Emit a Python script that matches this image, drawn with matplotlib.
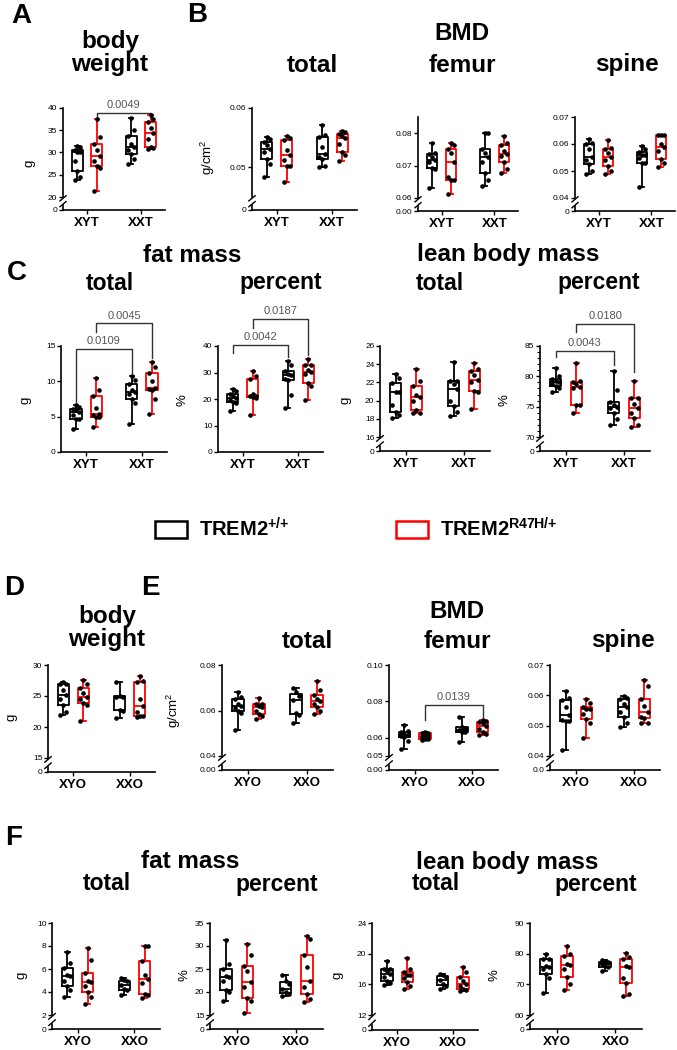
import numpy as np
import matplotlib.pyplot as plt
from matplotlib.patches import Patch

plt.rcParams['font.family'] = ['Liberation Sans', 'DejaVu Sans']
plt.rcParams['mathtext.default'] = 'regular'

W, H = 677, 1050

young_groups = ['XYT', 'XXT']
old_groups = ['XYO', 'XXO']

# box order in every panel: XY TREM2+/+, XY R47H, XX TREM2+/+, XX R47H
young_body_weight = [
    [23.8, 24.5, 25.8, 28.0, 30.0, 30.2, 30.5, 31.2, 31.5],
    [21.3, 26.5, 27.0, 28.0, 29.3, 30.5, 32.0, 33.5, 37.5],
    [27.5, 28.5, 29.7, 30.5, 31.2, 32.0, 33.6, 35.0, 37.7],
    [30.8, 31.0, 31.3, 33.0, 34.3, 35.5, 36.8, 37.5, 38.5],
]
young_bmd_total = [
    [0.0483, 0.0505, 0.0514, 0.0525, 0.0531, 0.0538, 0.0543, 0.0548, 0.0551],
    [0.0476, 0.0503, 0.0503, 0.0512, 0.0520, 0.0530, 0.0546, 0.0550, 0.0553],
    [0.0500, 0.0503, 0.0514, 0.0518, 0.0522, 0.0535, 0.0551, 0.0555, 0.0571],
    [0.0510, 0.0520, 0.0526, 0.0540, 0.0549, 0.0553, 0.0557, 0.0560, 0.0561],
]
young_bmd_femur = [
    [0.0630, 0.0690, 0.0694, 0.0710, 0.0716, 0.0725, 0.0736, 0.0740, 0.0769],
    [0.0612, 0.0655, 0.0656, 0.0665, 0.0711, 0.0740, 0.0752, 0.0765, 0.0771],
    [0.0637, 0.0655, 0.0677, 0.0710, 0.0728, 0.0740, 0.0751, 0.0800, 0.0800],
    [0.0677, 0.0690, 0.0711, 0.0730, 0.0737, 0.0745, 0.0763, 0.0770, 0.0790],
]
young_bmd_spine = [
    [0.0490, 0.0500, 0.0527, 0.0540, 0.0552, 0.0580, 0.0601, 0.0605, 0.0620],
    [0.0488, 0.0500, 0.0517, 0.0540, 0.0552, 0.0565, 0.0583, 0.0585, 0.0614],
    [0.0441, 0.0530, 0.0530, 0.0550, 0.0558, 0.0560, 0.0570, 0.0580, 0.0593],
    [0.0515, 0.0530, 0.0546, 0.0575, 0.0589, 0.0600, 0.0632, 0.0634, 0.0635],
]
young_fat_total = [
    [3.3, 4.6, 4.7, 5.3, 5.6, 5.9, 6.1, 6.4, 6.6],
    [3.5, 4.9, 5.0, 5.2, 5.4, 6.2, 7.9, 8.8, 10.5],
    [4.0, 7.0, 7.5, 8.2, 8.5, 8.8, 9.6, 10.2, 10.8],
    [5.4, 7.5, 8.8, 8.9, 9.0, 10.0, 11.2, 12.0, 12.7],
]
young_fat_pct = [
    [15.3, 18.5, 18.9, 19.5, 20.4, 21.0, 22.0, 23.0, 23.9],
    [13.8, 20.5, 20.8, 21.0, 21.1, 22.0, 27.4, 28.5, 30.6],
    [16.7, 21.5, 27.0, 27.5, 28.9, 29.5, 30.4, 33.0, 34.2],
    [19.5, 25.0, 26.0, 29.5, 30.2, 31.0, 33.0, 33.0, 35.2],
]
young_lean_total = [
    [18.1, 18.4, 18.8, 19.5, 20.9, 21.0, 21.9, 22.5, 22.9],
    [18.6, 18.6, 19.0, 20.0, 20.4, 20.6, 21.6, 22.2, 23.5],
    [18.3, 18.8, 19.4, 20.0, 21.3, 21.8, 22.1, 22.1, 24.2],
    [19.1, 21.0, 21.1, 22.0, 22.3, 22.8, 23.2, 23.5, 24.1],
]
young_lean_pct = [
    [77.5, 78.0, 78.4, 78.7, 79.0, 79.2, 79.5, 80.0, 81.3],
    [74.0, 75.3, 75.3, 78.0, 78.2, 78.8, 79.1, 79.2, 82.2],
    [72.0, 73.0, 74.0, 74.8, 75.0, 75.2, 75.7, 77.8, 80.8],
    [71.7, 72.0, 73.1, 74.0, 74.7, 75.5, 76.4, 76.4, 79.3],
]
old_body_weight = [
    [21.9, 22.5, 23.5, 24.5, 25.2, 26.0, 27.0, 27.0, 27.3],
    [20.9, 23.5, 23.8, 24.5, 24.9, 25.5, 26.3, 27.0, 27.6],
    [21.4, 22.6, 22.8, 24.8, 24.9, 25.0, 27.3],
    [21.6, 21.7, 21.8, 22.5, 23.4, 24.5, 27.3, 27.5, 28.3],
]
old_bmd_total = [
    [0.0515, 0.0590, 0.0596, 0.0610, 0.0618, 0.0630, 0.0651, 0.0660, 0.0681],
    [0.0562, 0.0575, 0.0585, 0.0600, 0.0615, 0.0620, 0.0627, 0.0630, 0.0654],
    [0.0546, 0.0580, 0.0590, 0.0646, 0.0665, 0.0680, 0.0697],
    [0.0583, 0.0600, 0.0616, 0.0630, 0.0641, 0.0650, 0.0668, 0.0690, 0.0730],
]
old_bmd_femur = [
    [0.0536, 0.0580, 0.0605, 0.0610, 0.0613, 0.0620, 0.0631, 0.0635, 0.0673],
    [0.0587, 0.0592, 0.0595, 0.0605, 0.0609, 0.0615, 0.0624, 0.0627, 0.0631],
    [0.0578, 0.0630, 0.0632, 0.0645, 0.0655, 0.0660, 0.0715],
    [0.0613, 0.0620, 0.0631, 0.0650, 0.0664, 0.0680, 0.0685, 0.0690, 0.0696],
]
old_bmd_spine = [
    [0.0420, 0.0515, 0.0515, 0.0520, 0.0535, 0.0560, 0.0585, 0.0590, 0.0615],
    [0.0460, 0.0510, 0.0521, 0.0540, 0.0554, 0.0556, 0.0563, 0.0575, 0.0589],
    [0.0495, 0.0510, 0.0527, 0.0545, 0.0560, 0.0570, 0.0588, 0.0590, 0.0599],
    [0.0508, 0.0510, 0.0524, 0.0530, 0.0544, 0.0565, 0.0588, 0.0630, 0.0650],
]
old_fat_total = [
    [3.6, 4.2, 4.55, 5.0, 5.35, 5.5, 6.1, 6.5, 7.45],
    [2.95, 3.6, 4.0, 4.5, 4.85, 5.0, 5.65, 6.8, 7.8],
    [3.75, 4.15, 4.25, 4.6, 4.95, 5.05, 5.2],
    [3.5, 3.7, 3.85, 4.8, 5.1, 5.5, 6.7, 8.0, 8.0],
]
old_fat_pct = [
    [18.1, 20.0, 20.5, 22.5, 23.2, 23.5, 25.1, 26.0, 31.2],
    [15.4, 18.0, 18.8, 21.0, 22.1, 24.5, 25.7, 28.0, 30.5],
    [19.2, 19.6, 20.0, 20.7, 21.8, 22.4, 23.6],
    [17.8, 18.5, 19.6, 21.0, 22.5, 25.5, 28.1, 31.5, 32.1],
]
old_lean_total = [
    [15.9, 16.2, 16.4, 17.0, 17.4, 17.8, 18.0, 18.0, 19.1],
    [15.4, 15.8, 16.3, 16.8, 17.2, 17.2, 17.6, 18.0, 19.4],
    [15.4, 15.8, 16.0, 16.6, 17.0, 17.2, 17.3],
    [15.1, 15.2, 15.4, 15.8, 16.1, 16.5, 16.9, 17.6, 18.3],
]
old_lean_pct = [
    [67.1, 72.0, 73.3, 75.0, 75.5, 76.0, 78.2, 78.2, 80.0],
    [68.0, 70.0, 72.3, 75.0, 76.3, 76.5, 79.2, 80.0, 82.5],
    [74.4, 75.6, 76.0, 76.6, 77.2, 77.6, 78.0],
    [66.3, 67.0, 70.3, 72.0, 75.8, 76.0, 78.2, 79.0, 80.3],
]

# p-value brackets: (box from, box to, top, left leg end, right leg end, label)
young_body_weight_p = [(1, 3, 38.9, 37.3, 38.0, '0.0049')]
young_fat_total_p = [(0, 2, 14.6, 7.0, 11.2, '0.0109'),
                     (1, 3, 18.2, 17.0, 13.3, '0.0045')]
young_fat_pct_p = [(0, 2, 40.4, 37.3, 35.9, '0.0042'),
                   (1, 3, 50.2, 46.8, 36.6, '0.0187')]
young_lean_pct_p = [(0, 2, 84.2, 83.2, 81.9, '0.0043'),
                    (1, 3, 88.6, 87.3, 80.7, '0.0180')]
old_bmd_femur_p = [(1, 3, 0.0782, 0.0700, 0.0717, '0.0139')]

positions = [-0.18, 0.18, 0.82, 1.18]
colors = ['black', 'red', 'black', 'red']

fig = plt.figure(figsize=(W / 100, H / 100), dpi=100)


def ftext(x, y, s, size, **kw):
    fig.text(x / W, 1 - y / H, s, ha='center', va='center',
             fontsize=size, fontweight='bold', **kw)


def fmt(v):
    if float(v).is_integer():
        return f'{int(v)}'
    return f'{v:.2f}'


def panel(box, data, groups, top, brk, ticks, zero_label=None,
          ylabel=None, ylab_pos=None, brackets=(), minor=None):
    x0, x1, ytop, ybrk, yzero = box
    ax = fig.add_axes([x0 / W, 1 - yzero / H, (x1 - x0) / W, (yzero - ytop) / H])

    if ybrk is None:
        bottom = brk
    else:
        k = (ybrk - ytop) / (top - brk)
        bottom = brk - (yzero - ybrk) / k
    ax.set_ylim(bottom, top)
    ax.set_xlim(-0.45, 1.45)

    bp = ax.boxplot(data, positions=positions, widths=0.2, whis=(0, 100),
                    showfliers=False, capwidths=0.08, manage_ticks=False)
    for i, c in enumerate(colors):
        bp['boxes'][i].set(color=c, linewidth=1.3)
        bp['medians'][i].set(color=c, linewidth=1.3)
        for j in (2 * i, 2 * i + 1):
            bp['whiskers'][j].set(color=c, linewidth=1.3)
            bp['caps'][j].set(color=c, linewidth=1.3)

    for p, vals in zip(positions, data):
        vals = np.sort(vals)
        jit = np.array([-1, 1, 0])[np.arange(len(vals)) % 3] * 0.055
        ax.scatter(p + jit, vals, s=11, color='black', zorder=3, linewidths=0)

    for i, j, yt, yl, yr, lab in brackets:
        ax.plot([positions[i], positions[i], positions[j], positions[j]],
                [yl, yt, yt, yr], color='#333333', lw=1, clip_on=False)
        ax.annotate(lab, xy=((positions[i] + positions[j]) / 2, yt),
                    xytext=(0, 2), textcoords='offset points', ha='center',
                    va='bottom', fontsize=8, color='#555555',
                    annotation_clip=False)

    for s in ('top', 'right'):
        ax.spines[s].set_visible(False)
    ax.spines['bottom'].set_linewidth(1.2)

    tick_vals = list(ticks)
    tick_labs = [fmt(t) for t in ticks]
    if ybrk is not None:
        ax.spines['left'].set_visible(False)
        tr = ax.get_yaxis_transform()
        gap = brk - bottom
        ax.plot([0, 0], [brk, top], color='black', lw=1.2, transform=tr,
                clip_on=False)
        ax.plot([0, 0], [bottom, bottom + 0.35 * gap], color='black', lw=1.2,
                transform=tr, clip_on=False)
        ax.plot([-0.03, 0.03], [brk - 0.3 * gap, brk + 0.1 * gap],
                color='black', lw=1, transform=tr, clip_on=False)
        ax.plot([-0.03, 0.03], [bottom + 0.25 * gap, bottom + 0.65 * gap],
                color='black', lw=1, transform=tr, clip_on=False)
        tick_vals = [bottom] + tick_vals
        tick_labs = [zero_label] + tick_labs
    else:
        ax.spines['left'].set_linewidth(1.2)
    ax.set_yticks(tick_vals)
    ax.set_yticklabels(tick_labs)
    if minor is not None:
        ax.set_yticks(np.arange(brk, top + 1e-9, minor), minor=True)
        ax.tick_params(axis='y', which='minor', length=2, width=0.8)

    ax.set_xticks([0, 1])
    ax.set_xticklabels(groups, fontsize=9.5, fontweight='bold')
    ax.tick_params(axis='y', labelsize=6, length=3, width=1, pad=1)
    ax.tick_params(axis='x', length=3, width=1, pad=2)

    if ylabel:
        lx, ly = ylab_pos
        ax.set_ylabel(ylabel, fontsize=9.5)
        ax.yaxis.set_label_coords((lx - x0) / (x1 - x0),
                                  (yzero - ly) / (yzero - ytop))
    return ax


# row 1
panel((63, 165, 108, 197, 210), young_body_weight, young_groups, 40, 20,
      [20, 25, 30, 35, 40], '0', 'g', (35, 163), young_body_weight_p)
panel((252, 357, 108, 197, 210), young_bmd_total, young_groups, 0.06, 0.045,
      [0.05, 0.06], '0', 'g/cm$^2$', (217, 157))
panel((418, 518, 117, 198, 211), young_bmd_femur, young_groups, 0.085, 0.06,
      [0.06, 0.07, 0.08], '0.00')
panel((575, 675, 117, 198, 211), young_bmd_spine, young_groups, 0.07, 0.04,
      [0.04, 0.05, 0.06, 0.07], '0')

# row 2
panel((61, 167, 346, None, 452), young_fat_total, young_groups, 15, 0,
      [0, 5, 10, 15], None, 'g', (32, 400), young_fat_total_p)
panel((218, 323, 346, None, 452), young_fat_pct, young_groups, 40, 0,
      [0, 10, 20, 30, 40], None, '%', (188, 400), young_fat_pct_p)
panel((380, 490, 346, 437, 451), young_lean_total, young_groups, 26, 16,
      [16, 18, 20, 22, 24, 26], '0', 'g', (352, 400))
panel((540, 650, 346, 437, 451), young_lean_pct, young_groups, 85, 70,
      [70, 75, 80, 85], '0', '%', (510, 400), young_lean_pct_p, minor=1)

# row 3
panel((48, 155, 665, 758, 772), old_body_weight, old_groups, 30, 15,
      [15, 20, 25, 30], '0', 'g', (18, 717))
panel((222, 333, 665, 756, 770), old_bmd_total, old_groups, 0.08, 0.04,
      [0.04, 0.06, 0.08], '0.00', 'g/cm$^2$', (183, 710))
panel((389, 498, 665, 756, 770), old_bmd_femur, old_groups, 0.10, 0.05,
      [0.05, 0.06, 0.08, 0.10], '0.00', brackets=old_bmd_femur_p)
panel((550, 660, 665, 756, 770), old_bmd_spine, old_groups, 0.07, 0.04,
      [0.04, 0.05, 0.06, 0.07], '0.0')

# row 4
panel((52, 160, 923, 1015, 1029), old_fat_total, old_groups, 10, 2,
      [2, 4, 6, 8, 10], '0', 'g', (27, 975))
panel((210, 323, 923, 1015, 1029), old_fat_pct, old_groups, 35, 15,
      [15, 20, 25, 30, 35], '0', '%', (190, 975))
panel((372, 478, 923, 1015, 1030), old_lean_total, old_groups, 24, 12,
      [12, 16, 20, 24], '0', 'g', (343, 975))
panel((530, 642, 923, 1015, 1029), old_lean_pct, old_groups, 90, 60,
      [60, 70, 80, 90], '0', '%', (500, 975))

# titles
for x, y, s in [(21, 16, 'A'), (197, 15, 'B'), (17, 273, 'C'),
                (14, 588, 'D'), (150, 588, 'E'), (14, 838, 'F')]:
    ftext(x, y, s, 20)

ftext(110, 53, 'body\nweight', 17.5, linespacing=1.0)
ftext(462, 34, 'BMD', 17.5)
for x, s in [(312, 'total'), (462, 'femur'), (627, 'spine')]:
    ftext(x, 65, s, 17.5)

ftext(192, 255, 'fat mass', 17.5)
ftext(508, 255, 'lean body mass', 17.5)
for x, s in [(110, 'total'), (281, 'percent'), (440, 'total'), (599, 'percent')]:
    ftext(x, 283, s, 16.5)

ftext(107, 628, 'body\nweight', 17.5, linespacing=1.0)
ftext(457, 611, 'BMD', 17.5)
for x, s in [(307, 'total'), (457, 'femur'), (623, 'spine')]:
    ftext(x, 641, s, 17.5)

ftext(190, 862, 'fat mass', 17.5)
ftext(507, 862, 'lean body mass', 17.5)
for x, s in [(107, 'total'), (277, 'percent'), (436, 'total'), (596, 'percent')]:
    ftext(x, 884, s, 16.5)

handles = [Patch(facecolor='white', edgecolor='black', linewidth=1.8),
           Patch(facecolor='white', edgecolor='red', linewidth=1.8)]
fig.legend(handles, ['TREM2$^{{+}/{+}}$', 'TREM2$^{R47H/{+}}$'], loc='center',
           bbox_to_anchor=(356 / W, 1 - 529 / H), ncol=2, frameon=False,
           prop={'size': 14.5, 'weight': 'bold'}, handlelength=1.6,
           handleheight=0.9, columnspacing=5.3, handletextpad=0.6)

fig.savefig('out.png', dpi=100)
